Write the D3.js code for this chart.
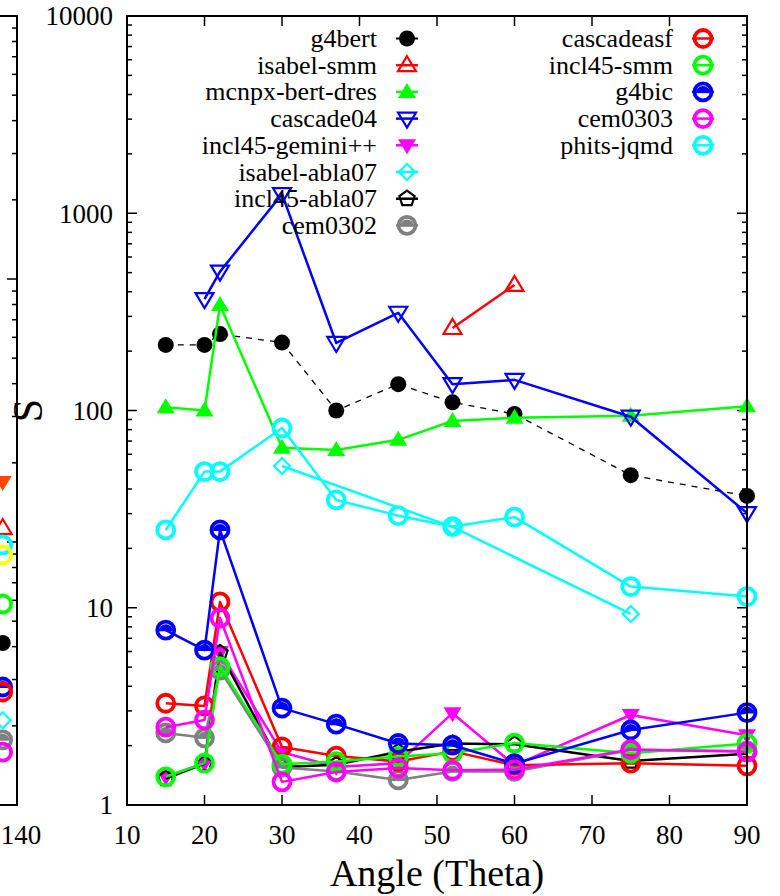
<!DOCTYPE html>
<html>
<head>
<meta charset="utf-8">
<script src="https://cdn.jsdelivr.net/npm/d3@7"></script>
<style>
  html, body { margin: 0; padding: 0; background: #fff; }
  svg { display: block; }
</style>
</head>
<body>
<svg id="chart" width="780" height="896" font-family="Liberation Serif, Times New Roman, serif"></svg>
<script>
// ---------------- DATA ----------------
const angles = [15, 20, 22, 30, 37, 45, 52, 60, 75, 90];

const g4bert         = [215, 215, 244, 221, 100, 136, 110, 96, 47, 36.9];
const isabelSmm      = [null, null, null, null, null, null, 262, 433, null, null];
const mcnpxBertDres  = [104, 100, 343, 64.8, 63, 71, 88.5, 92, 94, 105];
const cascade04      = [null, 367, 506, 1250, 220, 313, 136, 143, 93, 30.2];
const incl45Gemini   = [1.39, 1.63, 5.97, 1.85, 1.56, 1.63, 2.92, 1.59, 2.86, 2.26];
const isabelAbla07   = [null, null, null, 52.3, null, null, 25.7, null, 9.3, null];
const incl45Abla07   = [1.36, 1.62, 5.9, 1.56, 1.6, 1.86, 2.05, 2.03, 1.67, 1.82];
const cem0302        = [2.32, 2.19, 4.83, 1.55, 1.48, 1.34, 1.48, 1.48, 1.9, 1.88];
const cascadeasf     = [3.28, 3.18, 10.7, 1.97, 1.77, 1.66, 1.87, 1.59, 1.63, 1.58];
const incl45Smm      = [1.39, 1.63, 5.03, 1.61, 1.66, 1.76, 1.83, 2.06, 1.83, 2.05];
const g4bic          = [7.7, 6.1, 24.8, 3.1, 2.57, 2.05, 2.01, 1.62, 2.40, 2.94];
const cem0303        = [2.48, 2.70, 8.87, 1.31, 1.47, 1.54, 1.50, 1.51, 1.91, 1.86];
const phitsJqmd      = [24.8, 49, 49, 81.5, 35.2, 29.3, 25.8, 28.8, 12.8, 11.4];

const seriesNames = ["g4bert", "isabel-smm", "mcnpx-bert-dres", "cascade04", "incl45-gemini++",
  "isabel-abla07", "incl45-abla07", "cem0302", "cascadeasf", "incl45-smm", "g4bic", "cem0303", "phits-jqmd"];
const seriesValues = [g4bert, isabelSmm, mcnpxBertDres, cascade04, incl45Gemini, isabelAbla07,
  incl45Abla07, cem0302, cascadeasf, incl45Smm, g4bic, cem0303, phitsJqmd];

// neighbouring panel (only its right edge is visible)
const leftPanelAngle = 137;
const leftPanelValues = [16.9, 11.3, 9.75, 8.93, 5.81, 4.13, 2.81, 2.69, 2.10, 1.77, 1.59];

const xTicks = [10, 20, 30, 40, 50, 60, 70, 80, 90];
const yTicks = [1, 10, 100, 1000, 10000];
const leftPanelTickLabel = "140";

// ---------------- STYLES ----------------
const FONT = "Liberation Serif, Times New Roman, serif";
const styles = {
  "g4bert":          { color: "#000000", marker: "dot",   dash: "6,6", width: 1.3 },
  "isabel-smm":      { color: "#ff0000", marker: "triUpOpen" },
  "mcnpx-bert-dres": { color: "#00ff00", marker: "triUpFill" },
  "cascade04":       { color: "#0000ff", marker: "triDownOpen" },
  "incl45-gemini++": { color: "#ff00ff", marker: "triDownFill" },
  "isabel-abla07":   { color: "#00ffff", marker: "diamond" },
  "incl45-abla07":   { color: "#000000", marker: "pentagon" },
  "cem0302":         { color: "#808080", marker: "ringHalf" },
  "cascadeasf":      { color: "#ff0000", marker: "ring" },
  "incl45-smm":      { color: "#00ff00", marker: "ring" },
  "g4bic":           { color: "#0000ff", marker: "ringHalf" },
  "cem0303":         { color: "#ff00ff", marker: "ring" },
  "phits-jqmd":      { color: "#00ffff", marker: "ring" }
};
const leftPanelStyles = [
  { color: "#ff4500", marker: "triDownFill" },
  { color: "#ff0000", marker: "triUpOpen" },
  { color: "#00ffff", marker: "ring" },
  { color: "#ffff00", marker: "ring" },
  { color: "#00ff00", marker: "ring" },
  { color: "#000000", marker: "dot" },
  { color: "#0000ff", marker: "ringHalf" },
  { color: "#ff0000", marker: "ring" },
  { color: "#00ffff", marker: "diamond" },
  { color: "#808080", marker: "ringHalf" },
  { color: "#ff00ff", marker: "ring" }
];

// ---------------- LAYOUT ----------------
const L = 127, R = 747, T = 16, B = 805;
const svg = d3.select("#chart");

const x = d3.scaleLinear().domain([10, 90]).range([L, R]);
const y = d3.scaleLog().domain([1, 10000]).range([B, T]);

const xl = d3.scaleLinear().domain([10, 140]).range([17 - 620, 17]);
const yl = d3.scaleLog().domain([1, 1000]).range([B, T]);

function addText(g, txt, size) {
  return g.append("text").attr("font-family", FONT).attr("font-size", size).attr("fill", "#000").text(txt);
}

function drawMarker(g, type, color, cx, cy) {
  const s = g.append("g").attr("transform", `translate(${cx},${cy})`);
  switch (type) {
    case "dot":
      s.append("circle").attr("r", 8).attr("fill", color);
      break;
    case "ring":
      s.append("circle").attr("r", 8.5).attr("fill", "none").attr("stroke", color).attr("stroke-width", 3.8);
      break;
    case "ringHalf":
      s.append("circle").attr("r", 8.5).attr("fill", "none").attr("stroke", color).attr("stroke-width", 3.8);
      s.append("path").attr("d", "M-7,1 A7,7 0 0 1 7,1 Z").attr("fill", color);
      break;
    case "triUpOpen":
      s.append("path").attr("d", "M0,-9 L9,6 L-9,6 Z").attr("fill", "none").attr("stroke", color).attr("stroke-width", 2.2);
      break;
    case "triUpFill":
      s.append("path").attr("d", "M0,-9 L9,6 L-9,6 Z").attr("fill", color);
      break;
    case "triDownOpen":
      s.append("path").attr("d", "M0,9 L9,-6 L-9,-6 Z").attr("fill", "none").attr("stroke", color).attr("stroke-width", 2.2);
      break;
    case "triDownFill":
      s.append("path").attr("d", "M0,9 L9,-6 L-9,-6 Z").attr("fill", color);
      break;
    case "diamond":
      s.append("path").attr("d", "M0,-8 L8,0 L0,8 L-8,0 Z").attr("fill", "none").attr("stroke", color).attr("stroke-width", 2.2);
      break;
    case "pentagon": {
      const pts = d3.range(5).map(i => {
        const a = -Math.PI / 2 + i * 2 * Math.PI / 5;
        return [8 * Math.cos(a), 8 * Math.sin(a)];
      });
      s.append("path").attr("d", "M" + pts.map(p => p.join(",")).join("L") + "Z")
        .attr("fill", "none").attr("stroke", color).attr("stroke-width", 2.2);
      break;
    }
  }
}

// ---------------- neighbouring panel edge ----------------
const lp = svg.append("g");
lp.append("path").attr("d", `M-5,${T} L17,${T} L17,${B} L-5,${B}`)
  .attr("fill", "none").attr("stroke", "#000").attr("stroke-width", 2);
[1, 10, 100, 1000].forEach(d => {
  lp.append("line").attr("x1", 17).attr("x2", 7).attr("y1", yl(d)).attr("y2", yl(d)).attr("stroke", "#000").attr("stroke-width", 1.5);
});
[1, 10, 100].forEach(dec => {
  d3.range(2, 10).forEach(m => {
    lp.append("line").attr("x1", 17).attr("x2", 12).attr("y1", yl(dec * m)).attr("y2", yl(dec * m)).attr("stroke", "#000").attr("stroke-width", 1.5);
  });
});
leftPanelValues.forEach((v, i) => {
  drawMarker(lp, leftPanelStyles[i].marker, leftPanelStyles[i].color, xl(leftPanelAngle), yl(v));
});
addText(lp, leftPanelTickLabel, 27).attr("x", 21).attr("y", 844).attr("text-anchor", "middle");

// ---------------- axes / ticks ----------------
const ax = svg.append("g");
xTicks.forEach(t => {
  ax.append("line").attr("x1", x(t)).attr("x2", x(t)).attr("y1", B).attr("y2", B - 10).attr("stroke", "#000").attr("stroke-width", 1.5);
  ax.append("line").attr("x1", x(t)).attr("x2", x(t)).attr("y1", T).attr("y2", T + 10).attr("stroke", "#000").attr("stroke-width", 1.5);
  addText(ax, t, 27).attr("x", x(t)).attr("y", 844).attr("text-anchor", "middle");
});
yTicks.forEach(t => {
  ax.append("line").attr("x1", L).attr("x2", L + 10).attr("y1", y(t)).attr("y2", y(t)).attr("stroke", "#000").attr("stroke-width", 1.5);
  ax.append("line").attr("x1", R).attr("x2", R - 10).attr("y1", y(t)).attr("y2", y(t)).attr("stroke", "#000").attr("stroke-width", 1.5);
  addText(ax, t, 27).attr("x", 113).attr("y", y(t)).attr("dy", "0.35em").attr("text-anchor", "end");
});
[1, 10, 100, 1000].forEach(dec => {
  d3.range(2, 10).forEach(m => {
    const v = dec * m;
    ax.append("line").attr("x1", L).attr("x2", L + 5).attr("y1", y(v)).attr("y2", y(v)).attr("stroke", "#000").attr("stroke-width", 1.5);
    ax.append("line").attr("x1", R).attr("x2", R - 5).attr("y1", y(v)).attr("y2", y(v)).attr("stroke", "#000").attr("stroke-width", 1.5);
  });
});

// axis titles
addText(svg, "Angle (Theta)", 38).attr("x", (L + R) / 2).attr("y", 886).attr("text-anchor", "middle");
addText(svg, "S", 42).attr("transform", `translate(42,${(T + B) / 2}) rotate(-90)`).attr("text-anchor", "middle");

// ---------------- series ----------------
const plot = svg.append("g");
const line = d3.line().defined(d => d.v != null).x(d => x(d.a)).y(d => y(d.v));

seriesNames.forEach((name, i) => {
  const st = styles[name];
  const pts = angles.map((a, j) => ({ a: a, v: seriesValues[i][j] })).filter(d => d.v != null);
  const g = plot.append("g");
  g.append("path").datum(pts).attr("d", line).attr("fill", "none")
    .attr("stroke", st.color).attr("stroke-width", st.width || 2.5)
    .attr("stroke-dasharray", st.dash || null).attr("stroke-linejoin", "round");
  pts.forEach(d => drawMarker(g, st.marker, st.color, x(d.a), y(d.v)));
});

// ---------------- frame ----------------
svg.append("rect").attr("x", L).attr("y", T).attr("width", R - L).attr("height", B - T)
  .attr("fill", "none").attr("stroke", "#000").attr("stroke-width", 2);

// ---------------- legend ----------------
const legend = svg.append("g");
const rowY = i => 38.5 + i * 26.7;
seriesNames.forEach((name, i) => {
  const st = styles[name];
  const col = i < 8 ? 0 : 1;
  const row = col === 0 ? i : i - 8;
  const tx = col === 0 ? 377 : 673;
  const sx = col === 0 ? 407 : 703;
  const cy = rowY(row);
  addText(legend, name, 26).attr("x", tx).attr("y", cy).attr("dy", "0.33em").attr("text-anchor", "end");
  legend.append("line").attr("x1", sx - 11).attr("x2", sx + 11).attr("y1", cy).attr("y2", cy)
    .attr("stroke", st.color).attr("stroke-width", st.width ? 2 : 2.5);
  drawMarker(legend, st.marker, st.color, sx, cy);
});
</script>
</body>
</html>
